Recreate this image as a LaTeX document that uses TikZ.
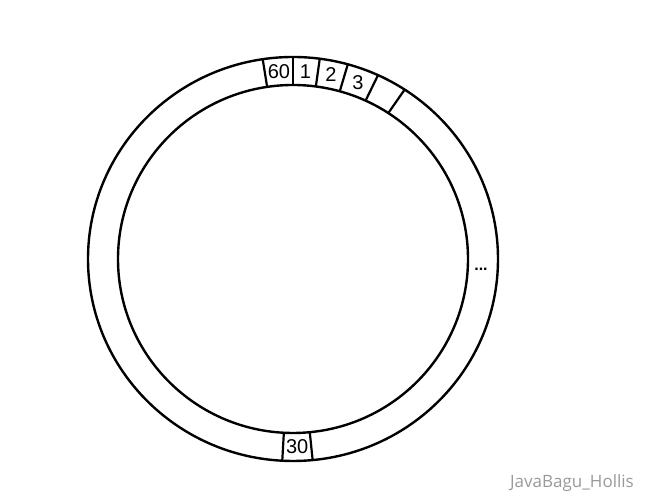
\documentclass[tikz,border=0pt]{standalone}
\usepackage{fontspec}
\setmainfont{Liberation Sans}
\newfontfamily\wmfont{Open Sans}
\usetikzlibrary{calc, positioning}

\begin{document}
\begin{tikzpicture}[
    x=1pt, y=1pt,
    ring/.style={draw, line width=2.4pt},
    divider/.style={draw, line width=2.2pt},
    num/.style={font=\fontsize{20}{20}\selectfont, inner sep=0pt},
    wmark/.style={font=\wmfont\fontsize{17}{17}\selectfont, text=black!40, inner sep=0pt}
]
\useasboundingbox (0,0) rectangle (646,502);

\coordinate (c) at (293,243);
\draw [ring] (c) ellipse [x radius=205, y radius=202];
\draw [ring] (c) ellipse [x radius=175, y radius=174];

% slot dividers
\foreach \a in {98.5, 90, 82.5, 74.5, 65.5, 57, 267, 275.5}
    \path [divider] ($(c)+(\a:175 and 174)$) -- ($(c)+(\a:205 and 202)$);

% slot numbers
\foreach \a/\n in {94.25/60, 86.25/1, 78.5/2, 70/3, 271.25/30}
    \node [num] (slot\n) at ($(c)+(\a:190 and 188)$) {\n};

\node [font=\bfseries\fontsize{16}{16}\selectfont, inner sep=0pt] (more) at (481,233) {...};
\node [wmark] (wm) at (572,19) {JavaBagu\_Hollis};
\end{tikzpicture}
\end{document}
